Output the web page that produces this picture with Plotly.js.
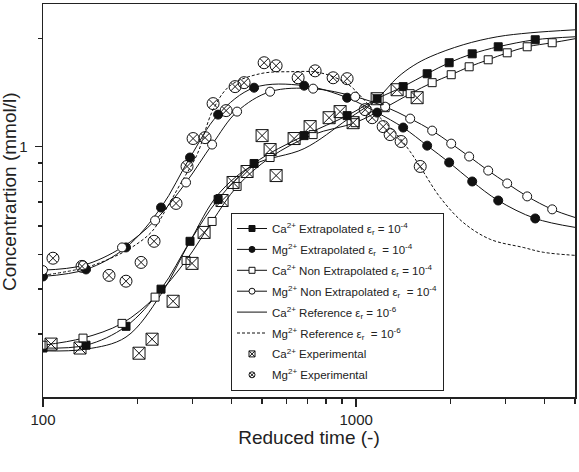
<!DOCTYPE html>
<html>
<head>
<meta charset="utf-8">
<script src="https://cdn.plot.ly/plotly-3.0.1.min.js"></script>
<style>html,body{margin:0;padding:0;background:#fff;}#chart{width:579px;height:472px;}</style>
</head>
<body>
<div id="chart"></div>
<script>
// ---- data ----
const endX = 5000;

const extX   = [100,137.2,184.1,238.2,294.8,362.4,472.2,682.3,935.9,1167,1413,1686,1982,2348,2843,3732];
const caExtY = [0.274,0.279,0.315,0.400,0.544,0.712,0.897,1.073,1.220,1.360,1.470,1.597,1.714,1.815,1.899,1.987];
const caExtEndY = 2.025;
const mgExtY = [0.434,0.454,0.523,0.676,0.932,1.228,1.460,1.479,1.369,1.244,1.130,1.006,0.903,0.799,0.707,0.630];
const mgExtEndY = 0.595;

const nonX   = [100,134.2,178.8,228.0,286.3,346.7,416.7,531.2,728.8,992.7,1238,1488,1749,2012,2296,2641,3037,3518,4228];
const caNonY = [0.279,0.292,0.321,0.380,0.481,0.618,0.774,0.932,1.080,1.166,1.284,1.405,1.508,1.587,1.670,1.747,1.827,1.899,1.949];
const caNonEndY = 2.000;
const mgNonY = [0.452,0.466,0.523,0.622,0.794,1.013,1.252,1.423,1.451,1.378,1.292,1.197,1.108,1.019,0.938,0.857,0.789,0.726,0.668];
const mgNonEndY = 0.634;

const caRefX = [100,137.2,184.1,238.2,294.8,362.4,472.2,682.3,935.9,1167,1352,1521,1723,2198,2821,3595,5000];
const caRefY = [0.269,0.272,0.294,0.387,0.544,0.735,0.891,0.987,1.189,1.360,1.556,1.681,1.781,1.924,2.025,2.077,2.118];

const mgRefX = [100,137.2,167.3,193.9,223.0,249.0,274.0,310.5,349.3,395.8,493.5,615.4,767.4,935.9,1045,1167,1332,1488,1637,1855,2198,2680,3416,3958,5000];
const mgRefY = [0.437,0.460,0.491,0.526,0.580,0.676,0.784,0.950,1.268,1.479,1.597,1.618,1.607,1.498,1.369,1.228,1.094,0.968,0.852,0.721,0.614,0.551,0.523,0.507,0.497];

const caExpX = [106.1,131.3,202.6,223.0,260.3,299.2,326.9,373.2,404.6,448.5,500.8,531.2,555.2,633.8,712.9,819.8,888.9,978.1,1167,1352,1566];
const caExpY = [0.281,0.274,0.265,0.290,0.370,0.472,0.576,0.707,0.794,0.852,1.073,0.981,0.830,1.053,1.137,1.204,1.252,1.166,1.360,1.441,1.369];

const mgExpX = [107.6,133.2,162.5,184.1,205.7,226.3,266.0,288.4,301.5,329.3,349.3,384.4,410.6,438.7,508.3,555.2,652.8,739.6,844.3,935.9,1069,1125,1220,1284,1392,1602];
const mgExpY = [0.488,0.463,0.437,0.421,0.475,0.544,0.694,0.880,1.053,1.059,1.318,1.260,1.470,1.508,1.714,1.681,1.556,1.627,1.556,1.547,1.268,1.204,1.137,1.080,1.033,0.880];

const xMajor = [100,1000];
const xMajorText = ['100','1000'];
const xMinor = [200,300,400,500,600,700,800,900,2000,3000,4000,5000];
const yMajor = [1];
const yMajorText = ['1'];
const yMinor = [0.3,0.4,0.5,0.6,0.7,0.8,0.9,2];

const names = [
  'Ca<sup>2+</sup> Extrapolated ε<sub>r</sub> = 10<sup>-4</sup>',
  'Mg<sup>2+</sup> Extrapolated ε<sub>r</sub>  = 10<sup>-4</sup>',
  'Ca<sup>2+</sup> Non Extrapolated ε<sub>r</sub> = 10<sup>-4</sup>',
  'Mg<sup>2+</sup> Non Extrapolated ε<sub>r</sub>  = 10<sup>-4</sup>',
  'Ca<sup>2+</sup> Reference ε<sub>r</sub> = 10<sup>-6</sup>',
  'Mg<sup>2+</sup> Reference ε<sub>r</sub>  = 10<sup>-6</sup>',
  'Ca<sup>2+</sup> Experimental',
  'Mg<sup>2+</sup> Experimental'
];

// ---- styles ----
const K = '#111';
const lineSolid = {color: K, width: 1, shape: 'spline'};
const lineDash  = {color: K, width: 1, shape: 'spline', dash: '3px,2px'};
const mFilledSq = {symbol: 'square', size: 8, color: K, line: {color: K, width: 1}};
const mFilledCi = {symbol: 'circle', size: 9, color: K, line: {color: K, width: 1}};
const mOpenSq   = {symbol: 'square', size: 8, color: '#fff', line: {color: K, width: 1}};
const mOpenCi   = {symbol: 'circle', size: 9, color: '#fff', line: {color: K, width: 1}};
const mExpSq    = {symbol: 'square-x-open', size: 12, color: K, line: {color: K, width: 1}};
const mExpCi    = {symbol: 'circle-x-open', size: 12, color: K, line: {color: K, width: 1}};

function lineTrace(x, y, line) {
  return {x: x, y: y, mode: 'lines', line: line, showlegend: false, hoverinfo: 'skip', type: 'scatter'};
}
function markTrace(x, y, marker) {
  return {x: x, y: y, mode: 'markers', marker: marker, showlegend: false, type: 'scatter'};
}
function legTrace(i, mode, marker, line) {
  const t = {x: [null], y: [null], mode: mode, name: names[i], legendgroup: 'g' + i, type: 'scatter'};
  if (marker) t.marker = Object.assign({}, marker, {size: 6});
  if (line) t.line = Object.assign({}, line, {shape: 'linear'});
  return t;
}

const traces = [
  lineTrace(caRefX, caRefY, lineSolid),
  lineTrace(mgRefX, mgRefY, lineDash),
  lineTrace(extX.concat([endX]), caExtY.concat([caExtEndY]), lineSolid),
  lineTrace(extX.concat([endX]), mgExtY.concat([mgExtEndY]), lineSolid),
  lineTrace(nonX.concat([endX]), caNonY.concat([caNonEndY]), lineSolid),
  lineTrace(nonX.concat([endX]), mgNonY.concat([mgNonEndY]), lineSolid),
  markTrace(extX, caExtY, mFilledSq),
  markTrace(extX, mgExtY, mFilledCi),
  markTrace(nonX, caNonY, mOpenSq),
  markTrace(nonX, mgNonY, mOpenCi),
  markTrace(caExpX, caExpY, mExpSq),
  markTrace(mgExpX, mgExpY, mExpCi),
  legTrace(0, 'lines+markers', mFilledSq, lineSolid),
  legTrace(1, 'lines+markers', mFilledCi, lineSolid),
  legTrace(2, 'lines+markers', mOpenSq, lineSolid),
  legTrace(3, 'lines+markers', mOpenCi, lineSolid),
  legTrace(4, 'lines', null, lineSolid),
  legTrace(5, 'lines', null, lineDash),
  legTrace(6, 'markers', mExpSq, null),
  legTrace(7, 'markers', mExpCi, null)
];

const font = 'Arial, "Liberation Sans", Helvetica, sans-serif';
const layout = {
  width: 579, height: 472,
  margin: {l: 43, r: 4, t: 4, b: 75},
  paper_bgcolor: '#fff', plot_bgcolor: '#fff',
  font: {family: font, color: '#222', size: 15},
  showlegend: true,
  xaxis: {
    type: 'log', range: [2, Math.log10(5000)], autorange: false,
    tickmode: 'array', tickvals: xMajor, ticktext: xMajorText,
    ticks: 'outside', ticklen: 8, tickwidth: 1.5, tickcolor: '#222',
    minor: {tickmode: 'array', tickvals: xMinor, ticks: 'outside', ticklen: 5, tickwidth: 1.5, tickcolor: '#222', showgrid: false},
    showgrid: false, zeroline: false,
    showline: true, mirror: true, linecolor: '#222', linewidth: 1.5,
    tickfont: {size: 15, family: font, color: '#222'},
    ticklabelstandoff: 0,
    title: {text: 'Reduced time (-)', font: {size: 19, family: font, color: '#222'}, standoff: 3}
  },
  yaxis: {
    type: 'log', range: [Math.log10(0.2), Math.log10(2.5)], autorange: false,
    tickmode: 'array', tickvals: yMajor, ticktext: yMajorText,
    ticks: 'outside', ticklen: 7, tickwidth: 1.5, tickcolor: '#222',
    minor: {tickmode: 'array', tickvals: yMinor, ticks: 'outside', ticklen: 4, tickwidth: 1.5, tickcolor: '#222', showgrid: false},
    showgrid: false, zeroline: false,
    showline: true, mirror: true, linecolor: '#222', linewidth: 1.5,
    tickfont: {size: 15, family: font, color: '#222'},
    ticklabelstandoff: 4
  },
  annotations: [{
    text: 'Concentrartion (mmol/l)', xref: 'paper', yref: 'paper',
    x: (9.5 - 43) / 532, y: (397 - 191.5) / 393, xanchor: 'center', yanchor: 'middle',
    textangle: -90, showarrow: false, font: {size: 19, family: font, color: '#222'}
  }],
  legend: {
    x: (231 - 43) / 532, y: (397 - 213) / 393, xanchor: 'left', yanchor: 'top',
    bgcolor: '#fff', bordercolor: '#222', borderwidth: 1,
    font: {size: 11.5, family: font, color: '#222'},
    tracegroupgap: 1.9, itemsizing: 'trace'
  }
};

Plotly.newPlot('chart', traces, layout, {displayModeBar: false, staticPlot: true});
</script>
</body>
</html>
